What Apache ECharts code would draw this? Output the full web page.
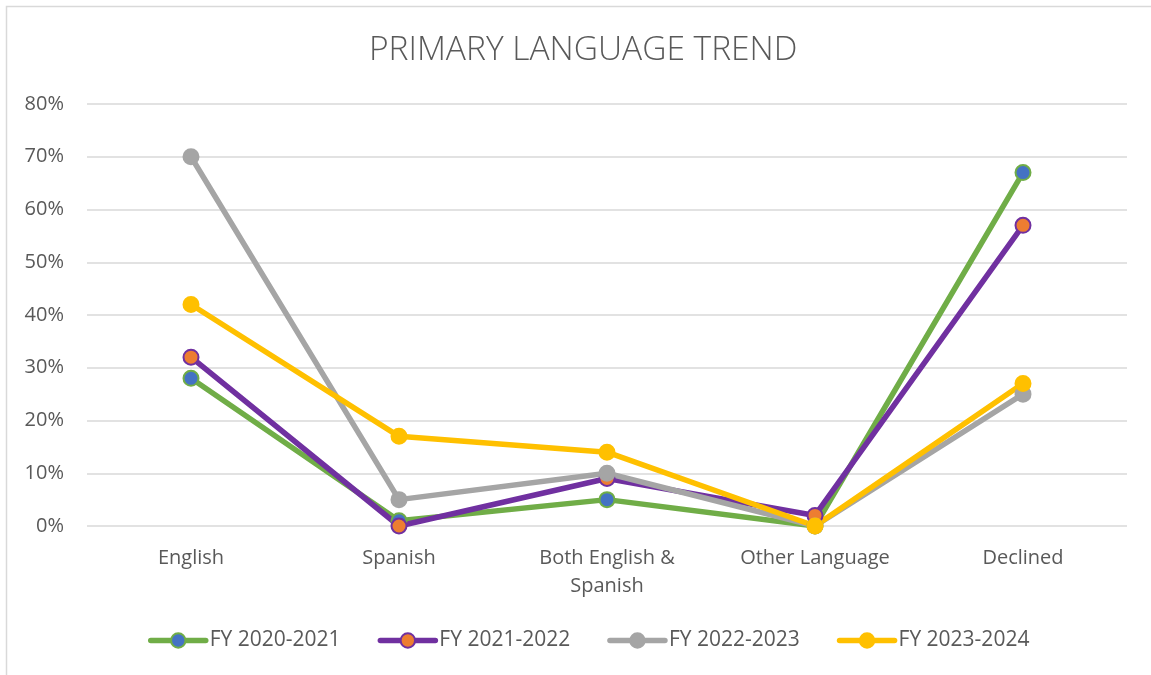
<!DOCTYPE html>
<html>
<head>
<meta charset="utf-8">
<script src="https://cdn.jsdelivr.net/npm/echarts@6/dist/echarts.min.js"></script>
<style>
  html, body { margin: 0; padding: 0; background: #ffffff; }
  #chart { width: 1151px; height: 675px; }
</style>
</head>
<body>
<div id="chart"></div>
<script>
// Primary language share by fiscal year (percent)
const categories = ['English', 'Spanish', 'Both English &\nSpanish', 'Other Language', 'Declined'];
const yTicks = [0, 10, 20, 30, 40, 50, 60, 70, 80];
const fy2021 = [28, 1, 5, 0, 67];
const fy2122 = [32, 0, 9, 2, 57];
const fy2223 = [70, 5, 10, 0, 25];
const fy2324 = [42, 17, 14, 0, 27];

const FONT = '"Open Sans", "Noto Sans", sans-serif';
const TEXT = '#595959';

function lineSeries(name, data, lineColor, fillColor) {
  return {
    name: name,
    type: 'line',
    data: data,
    symbol: 'circle',
    symbolSize: 15,
    lineStyle: { color: lineColor, width: 5.5, cap: 'round', join: 'round' },
    itemStyle: { color: fillColor, borderColor: lineColor, borderWidth: 2 },
    emphasis: { disabled: true },
    animation: false
  };
}

const chart = echarts.init(document.getElementById('chart'), null, { renderer: 'canvas' });
chart.setOption({
  backgroundColor: '#ffffff',
  graphic: [{
    type: 'rect',
    shape: { x: 6.5, y: 6.5, width: 1200, height: 700 },
    style: { fill: 'none', stroke: '#d9d9d9', lineWidth: 1.5 },
    silent: true, z: -10
  }],
  title: {
    text: 'PRIMARY LANGUAGE TREND',
    left: 364,
    top: 28,
    textStyle: { fontFamily: FONT, fontWeight: 300, fontSize: 33.5, color: TEXT }
  },
  legend: {
    bottom: 19,
    left: 143,
    itemWidth: 55,
    itemHeight: 18,
    itemGap: 37,
    lineStyle: { width: 5.5 },
    textStyle: { fontFamily: FONT, fontSize: 21, color: TEXT, padding: [0, 0, 0, -1] },
    data: ['FY 2020-2021', 'FY 2021-2022', 'FY 2022-2023', 'FY 2023-2024']
  },
  grid: { left: 87, right: 24, top: 104, bottom: 149 },
  xAxis: {
    type: 'category',
    data: categories,
    boundaryGap: true,
    axisLine: { show: false },
    axisTick: { show: false },
    axisLabel: { fontFamily: FONT, fontSize: 20, color: TEXT, margin: 18, lineHeight: 28, interval: 0 }
  },
  yAxis: {
    type: 'value',
    min: yTicks[0],
    max: yTicks[yTicks.length - 1],
    interval: 10,
    axisLine: { show: false },
    axisTick: { show: false },
    splitLine: { lineStyle: { color: '#d9d9d9', width: 1.5 } },
    axisLabel: { fontFamily: FONT, fontSize: 20, color: TEXT, margin: 23, formatter: v => v + '%' }
  },
  series: [
    lineSeries('FY 2020-2021', fy2021, '#70AD47', '#4472C4'),
    lineSeries('FY 2021-2022', fy2122, '#7030A0', '#ED7D31'),
    lineSeries('FY 2022-2023', fy2223, '#A5A5A5', '#A5A5A5'),
    lineSeries('FY 2023-2024', fy2324, '#FFC000', '#FFC000')
  ]
});
</script>
</body>
</html>
